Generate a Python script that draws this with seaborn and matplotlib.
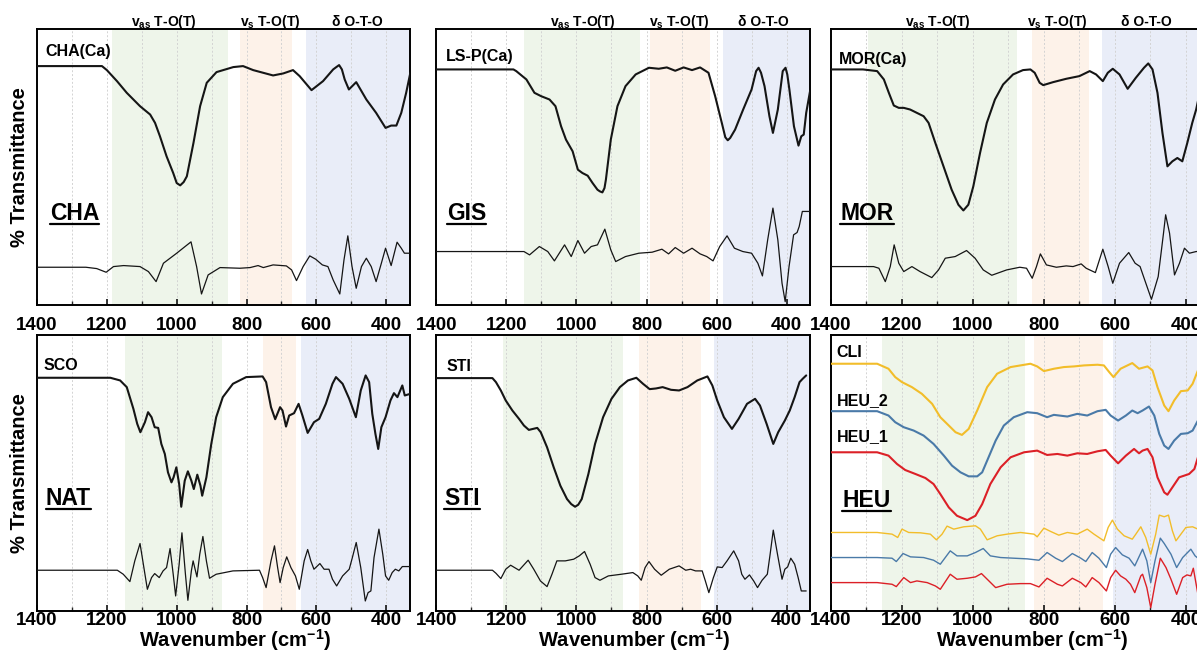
import matplotlib
matplotlib.use("Agg")
import matplotlib.pyplot as plt
import seaborn as sns
from matplotlib.lines import Line2D
from matplotlib.ticker import MultipleLocator
import matplotlib.transforms as mtransforms

sns.set_theme(style="white")
plt.rcParams["font.family"] = ["Liberation Sans", "DejaVu Sans"]
plt.rcParams["font.weight"] = "bold"
plt.rcParams["mathtext.fontset"] = "custom"
plt.rcParams["mathtext.rm"] = "Liberation Sans:bold"
plt.rcParams["mathtext.bf"] = "Liberation Sans:bold"
plt.rcParams["mathtext.it"] = "Liberation Sans:bold"
plt.rcParams["mathtext.default"] = "rm"
plt.rcParams["lines.solid_joinstyle"] = "round"

# ---------------- data (wavenumber in cm-1, intensity in arbitrary offset units) ----------------
cha_wn = [1400, 1214, 1200, 1171, 1143, 1105, 1076, 1062, 1048, 1029, 1010, 1000, 990, 980, 971, 952, 933, 914, 886, 838,
          810, 781, 724, 695, 667, 648, 614, 581, 552, 543, 535, 527, 519, 507, 486, 457, 429, 402, 386, 371,
          357, 343, 331]
cha_ir = [715, 715, 703, 670, 635, 595, 570, 545, 505, 445, 395, 365, 358, 368, 385, 485, 595, 665, 697, 712,
          715, 703, 687, 693, 703, 685, 643, 670, 705, 712, 718, 705, 675, 645, 667, 615, 575, 530, 537, 537,
          575, 635, 695]
cha_d2_wn = [1400, 1260, 1229, 1202, 1181, 1152, 1105, 1081, 1059, 1038, 1019, 1000, 976, 959, 943, 929, 910, 876, 819, 790,
             767, 752, 724, 686, 671, 657, 638, 619, 602, 583, 567, 552, 533, 521, 510, 498, 486, 471, 457, 443,
             429, 414, 402, 386, 369, 357, 348, 331]
cha_d2 = [113, 113, 109, 98, 115, 118, 115, 100, 70, 125, 140, 155, 175, 189, 115, 33, 90, 112, 110, 112,
          118, 112, 120, 117, 105, 73, 115, 147, 137, 120, 115, 75, 33, 135, 207, 115, 50, 115, 140, 115,
          70, 125, 170, 118, 188, 170, 155, 155]

gis_wn = [1400, 1180, 1172, 1143, 1120, 1101, 1077, 1060, 1044, 1030, 1011, 996, 983, 968, 954, 940, 933, 926, 920, 916,
          902, 883, 860, 831, 793, 765, 742, 718, 694, 670, 647, 623, 604, 585, 575, 568, 561, 547, 524, 500,
          487, 480, 473, 463, 449, 439, 425, 411, 403, 398, 392, 379, 366, 358, 351, 344, 333]
gis_ir = [705, 705, 700, 675, 635, 625, 615, 595, 535, 495, 460, 405, 395, 387, 365, 345, 340, 337, 350, 375,
          495, 595, 655, 690, 710, 707, 711, 701, 711, 703, 711, 695, 625, 545, 502, 493, 500, 525, 585, 645,
          700, 710, 695, 655, 565, 515, 585, 700, 710, 690, 645, 535, 477, 505, 510, 575, 640]
gis_d2_wn = [1400, 1150, 1134, 1106, 1082, 1063, 1034, 1015, 996, 977, 958, 940, 919, 902, 888, 860, 822, 784, 756, 737,
             718, 694, 670, 647, 628, 610, 591, 570, 549, 525, 500, 482, 469, 454, 439, 425, 413, 404, 393, 380,
             370, 364, 355, 333]
gis_d2 = [160, 160, 150, 175, 160, 132, 180, 145, 193, 155, 175, 180, 227, 165, 130, 145, 155, 158, 167, 153,
          172, 155, 170, 153, 145, 132, 175, 207, 170, 160, 155, 125, 87, 195, 290, 195, 65, 10, 115, 210,
          217, 235, 280, 280]

mor_wn = [1400, 1310, 1270, 1251, 1237, 1223, 1209, 1195, 1177, 1158, 1139, 1125, 1106, 1083, 1060, 1041, 1027, 1013, 999, 980,
          961, 938, 915, 887, 859, 838, 826, 812, 802, 774, 737, 700, 671, 653, 634, 620, 606, 587, 564, 541,
          518, 506, 494, 480, 466, 452, 438, 424, 410, 396, 382, 371, 355]
mor_ir = [705, 705, 700, 675, 635, 597, 590, 590, 585, 575, 565, 545, 485, 415, 345, 300, 283, 300, 355, 455,
          545, 615, 660, 690, 703, 705, 695, 665, 658, 667, 677, 685, 700, 690, 670, 695, 707, 690, 647, 680,
          710, 723, 705, 635, 515, 415, 430, 440, 430, 485, 545, 585, 665]
mor_d2_wn = [1400, 1280, 1265, 1247, 1233, 1222, 1209, 1195, 1172, 1149, 1116, 1097, 1078, 1050, 1018, 994, 971, 947, 905, 868,
             849, 833, 821, 810, 793, 765, 737, 718, 695, 681, 655, 634, 619, 606, 587, 561, 543, 529, 516, 497,
             478, 463, 457, 446, 432, 418, 404, 390, 371, 355]
mor_d2 = [115, 115, 110, 70, 115, 180, 125, 100, 115, 100, 82, 105, 140, 145, 163, 140, 105, 89, 105, 113,
          110, 80, 115, 153, 120, 113, 117, 115, 123, 110, 97, 167, 115, 65, 125, 157, 125, 115, 75, 17,
          85, 215, 270, 215, 90, 125, 170, 155, 160, 160]

nat_wn = [1400, 1190, 1162, 1143, 1124, 1113, 1104, 1091, 1082, 1072, 1063, 1053, 1044, 1034, 1025, 1015, 1009, 1001, 993, 987,
          977, 968, 958, 951, 941, 932, 927, 915, 901, 887, 868, 839, 801, 754, 744, 730, 718, 704, 697, 687,
          678, 664, 651, 640, 625, 607, 592, 573, 554, 544, 525, 506, 487, 473, 459, 449, 440, 431, 423, 414,
          402, 388, 378, 368, 354, 347, 331]
nat_ir = [698, 698, 690, 670, 605, 560, 535, 565, 595, 580, 550, 548, 500, 470, 415, 385, 400, 430, 380, 312,
          390, 418, 390, 365, 408, 375, 345, 400, 500, 580, 640, 680, 700, 702, 685, 610, 574, 610, 600, 552,
          585, 592, 620, 585, 533, 565, 575, 620, 680, 700, 680, 635, 580, 660, 705, 685, 590, 530, 485, 550,
          580, 630, 652, 640, 675, 645, 650]
nat_d2_wn = [1400, 1170, 1153, 1134, 1120, 1105, 1094, 1084, 1072, 1063, 1050, 1039, 1029, 1019, 1010, 1003, 993, 985, 975, 968,
             958, 953, 942, 934, 925, 915, 906, 887, 839, 763, 754, 744, 730, 720, 711, 704, 695, 685, 673, 660,
             649, 635, 625, 616, 607, 590, 578, 564, 554, 542, 525, 506, 497, 486, 473, 460, 452, 444, 435, 421,
             410, 402, 393, 383, 374, 364, 354, 331]
nat_d2 = [122, 122, 110, 88, 150, 202, 130, 65, 100, 112, 100, 120, 130, 187, 110, 45, 140, 234, 110, 32,
          120, 150, 102, 170, 223, 150, 98, 110, 120, 122, 100, 70, 150, 195, 130, 85, 130, 162, 130, 105,
          65, 150, 184, 150, 125, 142, 125, 125, 95, 75, 105, 125, 160, 205, 130, 30, 55, 60, 160, 245,
          170, 105, 92, 115, 125, 120, 133, 133]

sti_wn = [1400, 1240, 1230, 1216, 1202, 1183, 1164, 1150, 1136, 1112, 1102, 1084, 1065, 1046, 1027, 1015, 1004, 995, 985, 966,
          947, 924, 900, 876, 853, 829, 810, 791, 773, 754, 730, 707, 683, 655, 626, 612, 598, 579, 556, 537,
          513, 490, 476, 457, 438, 424, 405, 391, 377, 363, 354, 344]
sti_ir = [697, 697, 685, 660, 630, 600, 575, 555, 542, 548, 535, 490, 430, 375, 335, 320, 312, 318, 335, 410,
          500, 580, 635, 670, 690, 698, 680, 664, 666, 670, 662, 660, 670, 690, 702, 675, 630, 580, 545, 575,
          620, 635, 615, 560, 500, 535, 570, 600, 640, 685, 695, 705]
sti_d2_wn = [1400, 1240, 1230, 1216, 1202, 1188, 1164, 1138, 1122, 1103, 1084, 1070, 1056, 1032, 1008, 992, 977, 961, 947, 933,
             909, 872, 839, 825, 815, 804, 793, 777, 758, 735, 707, 688, 674, 660, 641, 632, 622, 609, 598, 584,
             570, 551, 537, 528, 519, 506, 494, 483, 470, 455, 447, 438, 426, 413, 405, 397, 388, 377, 367, 358,
             344]
sti_d2 = [122, 122, 113, 97, 125, 137, 122, 152, 125, 90, 73, 110, 150, 150, 155, 165, 178, 140, 100, 92,
          105, 110, 115, 105, 92, 130, 148, 125, 107, 125, 135, 122, 125, 120, 120, 90, 55, 100, 132, 130,
          150, 180, 150, 110, 95, 108, 90, 70, 92, 110, 170, 242, 170, 95, 125, 132, 158, 140, 100, 60,
          60]

cli_wn = [1400, 1270, 1238, 1219, 1200, 1172, 1144, 1115, 1092, 1068, 1049, 1031, 1012, 988, 960, 932, 894, 838, 819, 800,
          772, 744, 715, 687, 649, 631, 616, 604, 584, 551, 532, 508, 494, 480, 461, 449, 433, 414, 395, 381,
          366, 355]
cli_ir = [740, 740, 725, 700, 685, 670, 650, 620, 580, 555, 535, 527, 545, 600, 670, 710, 730, 740, 732, 718,
          725, 730, 732, 735, 737, 735, 715, 700, 725, 742, 725, 732, 720, 670, 615, 598, 630, 658, 660, 680,
          720, 750]
heu2_wn = [1400, 1270, 1238, 1219, 1195, 1167, 1139, 1111, 1082, 1059, 1035, 1012, 988, 974, 960, 936, 913, 885, 847, 819,
           791, 772, 734, 706, 678, 649, 626, 612, 591, 569, 551, 536, 522, 504, 489, 475, 461, 449, 433, 414,
           395, 381, 366, 355]
heu2_ir = [598, 598, 585, 565, 550, 540, 525, 500, 465, 435, 415, 403, 403, 415, 450, 510, 555, 580, 595, 592,
           580, 587, 582, 590, 585, 598, 602, 585, 570, 585, 600, 592, 600, 612, 585, 530, 495, 485, 510, 530,
           532, 540, 570, 590]
heu1_wn = [1400, 1270, 1238, 1214, 1191, 1162, 1134, 1111, 1092, 1068, 1045, 1016, 993, 974, 951, 922, 894, 856, 819, 791,
           762, 734, 706, 678, 649, 626, 612, 591, 569, 546, 532, 522, 508, 494, 480, 461, 452, 438, 419, 405,
           391, 376, 366, 355]
heu1_ir = [475, 475, 465, 440, 422, 410, 398, 380, 350, 310, 285, 272, 285, 320, 380, 430, 460, 475, 480, 467,
           470, 465, 472, 470, 478, 482, 465, 442, 465, 485, 472, 480, 485, 460, 400, 355, 348, 370, 400, 405,
           410, 425, 460, 490]
cli_d2_wn = [1400, 1270, 1228, 1212, 1200, 1181, 1148, 1120, 1103, 1087, 1073, 1054, 1026, 993, 979, 960, 932, 904, 866, 828,
             819, 800, 781, 758, 734, 706, 678, 659, 631, 619, 607, 593, 574, 551, 541, 527, 513, 499, 485, 475,
             461, 449, 438, 428, 414, 400, 381, 366, 355]
cli_d2 = [235, 235, 230, 220, 245, 235, 234, 230, 213, 230, 254, 245, 252, 255, 245, 213, 225, 230, 235, 230,
          222, 248, 238, 227, 235, 230, 245, 230, 210, 250, 272, 245, 225, 215, 230, 252, 220, 170, 230, 287,
          282, 287, 240, 210, 230, 250, 252, 245, 245]
heu2_d2_wn = [1400, 1270, 1228, 1216, 1197, 1176, 1139, 1111, 1092, 1064, 1045, 1016, 993, 971, 951, 922, 885, 847, 814, 791,
              767, 748, 720, 696, 682, 664, 645, 624, 612, 598, 579, 560, 544, 522, 510, 499, 487, 472, 461, 442,
              426, 409, 386, 374, 366, 355]
heu2_d2 = [160, 160, 158, 148, 172, 162, 160, 152, 140, 180, 165, 165, 175, 187, 165, 160, 158, 156, 152, 175,
           158, 148, 172, 158, 148, 175, 158, 130, 170, 190, 168, 158, 135, 185, 150, 85, 150, 218, 202, 170,
           130, 160, 185, 165, 158, 158]
heu1_d2_wn = [1400, 1270, 1228, 1216, 1195, 1176, 1158, 1129, 1106, 1092, 1064, 1045, 1016, 993, 976, 955, 936, 904, 866, 838,
              814, 791, 762, 748, 720, 696, 682, 664, 645, 624, 612, 598, 584, 569, 556, 544, 527, 522, 510, 499,
              487, 472, 456, 442, 426, 409, 397, 386, 379, 366, 355]
heu1_d2 = [85, 85, 80, 73, 100, 85, 90, 85, 75, 65, 110, 95, 98, 102, 112, 90, 70, 80, 82, 82,
           72, 98, 80, 75, 98, 85, 72, 100, 85, 60, 100, 122, 105, 95, 80, 55, 105, 110, 70, 10,
           80, 158, 130, 95, 50, 100, 108, 105, 128, 50, 40]

# shaded assignment regions per panel: (v_as T-O(T), v_s T-O(T), delta O-T-O)
bands_cha = [(1186, 854), (819, 670), (631, 300)]
bands_gis = [(1150, 818), (789, 619), (583, 300)]
bands_mor = [(1297, 876), (835, 674), (636, 300)]
bands_nat = [(1148, 869), (753, 657), (643, 300)]
bands_sti = [(1210, 868), (822, 644), (606, 300)]
bands_heu = [(1255, 854), (828, 634), (605, 300)]
band_names = [r"v$_{\mathregular{as}}$ T-O(T)", r"v$_{\mathregular{s}}$ T-O(T)", "δ O-T-O"]
header_pos_cha = [1036, 733, 483]
header_pos_gis = [983, 707, 465]
header_pos_mor = [1100, 762, 511]

# ---------------- styling ----------------
band_colors = ["#eef5ea", "#fdf2e9", "#e9edf8"]
BLACK = "#151515"
YELLOW = "#f2bd2a"
BLUE = "#4a7aa8"
RED = "#dc2027"

W, H = 1197, 657
fig = plt.figure(figsize=(W / 100, H / 100), dpi=100)

col_left = [37, 436.4, 831.0]
col_w = [373, 374, 379]
row_top = [29, 335]
ax_h = 276


def make_ax(col, row):
    l = col_left[col] / W
    b = 1 - (row_top[row] + ax_h) / H
    return fig.add_axes([l, b, col_w[col] / W, ax_h / H])


panels = [
    dict(row=0, col=0, name="CHA", bands=bands_cha, headers=header_pos_cha,
         curves=[(cha_wn, cha_ir, BLACK, 1.5), (cha_d2_wn, cha_d2, BLACK, 0.9)],
         labels=[("CHA(Ca)", 0.022, 0.917)], big=(0.035, 0.33)),
    dict(row=0, col=1, name="GIS", bands=bands_gis, headers=header_pos_gis,
         curves=[(gis_wn, gis_ir, BLACK, 1.5), (gis_d2_wn, gis_d2, BLACK, 0.9)],
         labels=[("LS-P(Ca)", 0.024, 0.899)], big=(0.028, 0.333)),
    dict(row=0, col=2, name="MOR", bands=bands_mor, headers=header_pos_mor,
         curves=[(mor_wn, mor_ir, BLACK, 1.5), (mor_d2_wn, mor_d2, BLACK, 0.9)],
         labels=[("MOR(Ca)", 0.022, 0.888)], big=(0.025, 0.333)),
    dict(row=1, col=0, name="NAT", bands=bands_nat, headers=None,
         curves=[(nat_wn, nat_ir, BLACK, 1.5), (nat_d2_wn, nat_d2, BLACK, 0.9)],
         labels=[("SCO", 0.017, 0.89)], big=(0.023, 0.407)),
    dict(row=1, col=1, name="STI", bands=bands_sti, headers=None,
         curves=[(sti_wn, sti_ir, BLACK, 1.5), (sti_d2_wn, sti_d2, BLACK, 0.9)],
         labels=[("STI", 0.028, 0.885)], big=(0.02, 0.407)),
    dict(row=1, col=2, name="HEU", bands=bands_heu, headers=None,
         curves=[(cli_wn, cli_ir, YELLOW, 1.5), (heu2_wn, heu2_ir, BLUE, 1.5), (heu1_wn, heu1_ir, RED, 1.5),
                 (cli_d2_wn, cli_d2, YELLOW, 1.0), (heu2_d2_wn, heu2_d2, BLUE, 1.0), (heu1_d2_wn, heu1_d2, RED, 1.0)],
         labels=[("CLI", 0.015, 0.938), ("HEU_2", 0.015, 0.764), ("HEU_1", 0.015, 0.631)], big=(0.03, 0.40)),
]

big_texts = []
for p in panels:
    ax = make_ax(p["col"], p["row"])
    for (hi, lo), c in zip(p["bands"], band_colors):
        ax.axvspan(lo, hi, color=c, lw=0, zorder=0)
    for wn, vals, color, lw in p["curves"]:
        assert len(wn) == len(vals), (p["name"], len(wn), len(vals))
        sns.lineplot(x=wn, y=vals, ax=ax, color=color, lw=lw, estimator=None, sort=False, zorder=3)
    ax.set_xlim(1400, 332)
    ax.set_ylim(0, 826)
    ax.set_yticks([])
    ax.set_ylabel("")
    ax.set_xlabel("")
    ax.xaxis.set_major_locator(MultipleLocator(200))
    ax.xaxis.set_minor_locator(MultipleLocator(100))
    ax.grid(False)
    ax.set_axisbelow(True)
    ax.grid(True, which="both", axis="x", color="#d3d3d3", ls=(0, (2, 2)), lw=0.7)
    for s in ax.spines.values():
        s.set_color("black")
        s.set_linewidth(1.4)
    pad = 9.0 if p["row"] == 0 else 0.5
    ax.tick_params(axis="x", which="major", direction="in", bottom=True, top=False, length=4, width=1.1,
                   labelsize=13.5, pad=pad, colors="black")
    ax.tick_params(axis="x", which="minor", direction="in", bottom=True, top=False, length=3, width=1.0)
    for lab in ax.get_xticklabels():
        lab.set_fontweight("bold")

    if p["headers"] is not None:
        trans = mtransforms.blended_transform_factory(ax.transData, ax.transAxes)
        for name, xpos in zip(band_names, p["headers"]):
            ax.text(xpos, 1.012, name, transform=trans, ha="center", va="baseline", fontsize=10,
                    fontweight="bold", color="black", clip_on=False)
    for txt, x, y in p["labels"]:
        ax.text(x, y, txt, transform=ax.transAxes, ha="left", va="center", fontsize=11.5,
                fontweight="bold", color="black")
    t = ax.text(p["big"][0], p["big"][1], p["name"], transform=ax.transAxes, ha="left", va="center",
                fontsize=16.5, fontweight="bold", color="black")
    big_texts.append(t)
    if p["col"] == 0:
        ax.text(-0.046, 0.5, "% Transmittance", transform=ax.transAxes, rotation=90, ha="center",
                va="center", fontsize=14.5, fontweight="bold", color="black")
    if p["row"] == 1:
        ax.text(0.53, -0.104, r"Wavenumber (cm$^{\mathregular{-1}}$)", transform=ax.transAxes, ha="center",
                va="center", fontsize=14.5, fontweight="bold", color="black")

fig.canvas.draw()
renderer = fig.canvas.get_renderer()
inv = fig.transFigure.inverted()
for t in big_texts:
    bb = t.get_window_extent(renderer)
    y = bb.y0 + 1.0
    (x0, y0), (x1, y1) = inv.transform([(bb.x0, y), (bb.x1, y)])
    fig.add_artist(Line2D([x0, x1], [y0, y1], transform=fig.transFigure, color="black", lw=1.6))

fig.savefig("out.png", dpi=100)
